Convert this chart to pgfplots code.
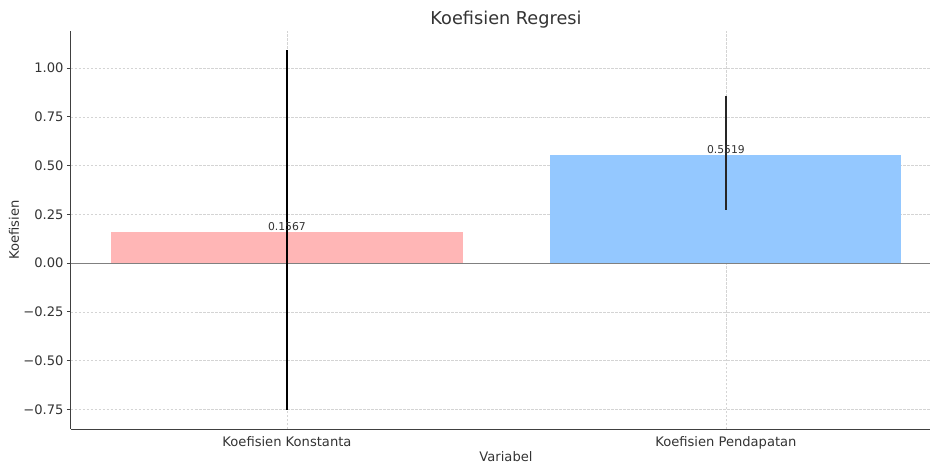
\documentclass[border=0pt]{standalone}
\usepackage{fontspec}
\setmainfont{DejaVu Sans}
\usepackage{pgfplots}
\pgfplotsset{compat=1.18}
\definecolor{pinkbar}{HTML}{FFB6B6}
\definecolor{bluebar}{HTML}{94C8FF}
\definecolor{gridc}{HTML}{D4D4D4}
\definecolor{txt}{HTML}{333333}
\begin{document}
\begin{tikzpicture}
\path[use as bounding box] (-71pt,-35pt) rectangle (859pt,429pt);
\begin{axis}[
  at={(0,0)}, anchor=south west,
  scale only axis, width=870pt, height=398pt,
  xmin=-0.492, xmax=1.49, ymin=-0.851, ymax=1.19,
  axis lines=left, axis line style={-, line width=1pt, black!75},
  tick align=outside,
  xtick={0,1}, xticklabels={Koefisien Konstanta, Koefisien Pendapatan},
  x tick style={draw=none},
  ytick={-0.75,-0.5,-0.25,0,0.25,0.5,0.75,1},
  yticklabels={−0.75,−0.50,−0.25,0.00,0.25,0.50,0.75,1.00},
  y tick style={black!75, line width=0.8pt},
  major tick length=4pt,
  ticklabel style={font=\fontsize{13.1}{15}\selectfont, text=txt},
  grid=major,
  major grid style={gridc, dash pattern=on 2.5pt off 1.5pt, line width=0.45pt},
  title={Koefisien Regresi},
  title style={font=\fontsize{17.7}{20}\selectfont, text=txt, at={(0.5,1)}, anchor=base, yshift=0pt},
  xlabel={Variabel},
  ylabel={Koefisien},
  label style={font=\fontsize{13.1}{15}\selectfont, text=txt},
  xlabel style={at={(0.5,0)}, anchor=base, yshift=-32pt},
  ylabel style={at={(0,0.5)}, anchor=base, rotate=0, yshift=52pt},
  clip=false,
]
\addplot[ybar, bar width=0.8, bar shift=0pt, fill=pinkbar, draw=none,
  point meta=explicit symbolic, nodes near coords,
  nodes near coords style={font=\fontsize{10.8}{12}\selectfont, text=txt, anchor=south, inner sep=2pt}]
  coordinates {(0,0.1567) [0.1567]};
\addplot[ybar, bar width=0.8, bar shift=0pt, fill=bluebar, draw=none,
  point meta=explicit symbolic, nodes near coords,
  nodes near coords style={font=\fontsize{10.8}{12}\selectfont, text=txt, anchor=south, inner sep=2pt}]
  coordinates {(1,0.5519) [0.5519]};
\addplot[gray, line width=0.8pt, forget plot] coordinates {(-0.492,0) (1.49,0)};
\addplot[draw=none, mark=none, forget plot,
  error bars/.cd, y dir=both, y explicit, error mark=none,
  error bar style={line width=1.5pt, black}]
  coordinates {(0,0.1567) += (0,0.938) -= (0,0.912)};
\addplot[draw=none, mark=none, forget plot,
  error bars/.cd, y dir=both, y explicit, error mark=none,
  error bar style={line width=1.5pt, black!85}]
  coordinates {(1,0.5519) += (0,0.304) -= (0,0.280)};
\end{axis}
\end{tikzpicture}
\end{document}
